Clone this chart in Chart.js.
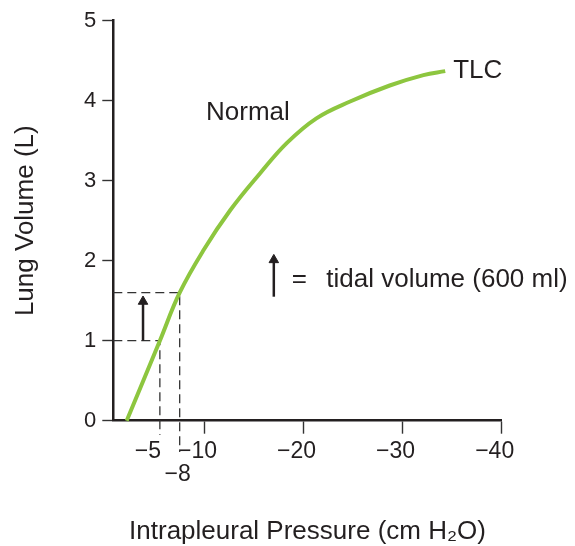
<!DOCTYPE html>
<html><head><meta charset="utf-8">
<script src="https://cdn.jsdelivr.net/npm/chart.js@4/dist/chart.umd.min.js"></script>
<style>html,body{margin:0;padding:0;background:#fff}#wrap{width:575px;height:546px;position:relative}</style>
</head><body><div id="wrap"><canvas id="c"></canvas></div>
<script>
// Pressure-volume curve (Intrapleural pressure in cm H2O, lung volume in L)
const curvePressure = [-2.15, -5.5, -7.5, -9.9, -12.6, -15.6, -18.3, -21.3, -24.7, -28.7, -32.1, -34.3];
const curveVolume   = [0, 1.0, 1.6, 2.13, 2.63, 3.09, 3.47, 3.78, 3.99, 4.19, 4.32, 4.37];

// Tidal breath: start (FRC) and end of inspiration
const startPressure = -5.5, startVolume = 1.0;
const endPressure = -7.5, endVolume = 1.6;
const guideBottomStart = -0.18, guideBottomEnd = -0.39;
const axisPressure = -0.8;

// Tidal-volume arrows
const tidalArrowPressure = -3.8, tidalArrowFrom = 1.0, tidalArrowTo = 1.49;
const keyArrowPressure = -17, keyArrowFrom = 1.55, keyArrowTo = 2.01;

// Axes
const xTicks = [-40, -30, -20, -10, -8, -5];
const xTickLabels = ['−40', '−30', '−20', '−10', ['', '−8'], '−5'];
const yTicks = [0, 1, 2, 3, 4, 5];

const INK = '#231f20';
Chart.defaults.font.family = '"Liberation Sans", Arial, Helvetica, sans-serif';
Chart.defaults.color = INK;

const pts = (xs, ys) => xs.map((x, i) => ({x, y: ys[i]}));

const textPlugin = {
  id: 'annotText',
  afterDatasetsDraw(chart) {
    const {ctx, scales: {x, y}} = chart;
    ctx.save();
    ctx.fillStyle = INK;
    ctx.font = '26px "Liberation Sans", Arial, Helvetica, sans-serif';
    ctx.textBaseline = 'alphabetic';
    ctx.textAlign = 'left';
    const put = (t, px, py) => ctx.fillText(t, x.getPixelForValue(px), y.getPixelForValue(py));
    put('Normal', -10.16, 3.76);
    put('TLC', -35.1, 4.29);
    put('=', -18.8, 1.67);
    put('tidal volume (600 ml)', -22.3, 1.67);
    ctx.restore();
  }
};

const dashStyle = {borderColor: '#333', borderWidth: 1.3, borderDash: [9, 5], pointRadius: 0, tension: 0, clip: false, fill: false};
const arrowStyle = {borderColor: INK, backgroundColor: INK, borderWidth: 2.5, pointStyle: 'triangle', pointRadius: [0, 5.5],
  pointBorderWidth: 1, pointBorderColor: INK, pointBackgroundColor: INK, pointHoverRadius: 0, tension: 0, clip: false, fill: false};

new Chart(document.getElementById('c'), {
  type: 'line',
  data: {
    datasets: [
      {data: pts(curvePressure, curveVolume), borderColor: '#8dc63f', borderWidth: 4, pointRadius: 0,
       tension: 0.4, fill: false, clip: false, borderCapStyle: 'butt'},
      {data: [{x: tidalArrowPressure, y: tidalArrowFrom}, {x: tidalArrowPressure, y: tidalArrowTo}], ...arrowStyle},
      {data: [{x: keyArrowPressure, y: keyArrowFrom}, {x: keyArrowPressure, y: keyArrowTo}], ...arrowStyle},
      {data: [{x: axisPressure, y: startVolume}, {x: startPressure, y: startVolume}, {x: startPressure, y: guideBottomStart}], ...dashStyle},
      {data: [{x: axisPressure, y: endVolume}, {x: endPressure, y: endVolume}, {x: endPressure, y: guideBottomEnd}], ...dashStyle}
    ]
  },
  options: {
    responsive: true,
    maintainAspectRatio: false,
    animation: false,
    events: [],
    layout: {padding: {top: 20.7, right: 73.3, bottom: 0, left: 0}},
    plugins: {legend: {display: false}, tooltip: {enabled: false}},
    scales: {
      x: {
        type: 'linear', reverse: true, min: -40, max: axisPressure,
        afterBuildTicks: s => { s.ticks = xTicks.map(v => ({value: v})); },
        afterFit: s => { s.height = 125.3; },
        ticks: {
          autoSkip: false, maxRotation: 0, minRotation: 0, padding: 6, labelOffset: -7,
          font: {size: 23, lineHeight: 1}, color: INK,
          callback: v => { const i = xTicks.indexOf(v); return i >= 0 ? xTickLabels[i] : ''; }
        },
        grid: {drawOnChartArea: false, drawTicks: true, tickLength: 13, tickWidth: 1.4,
          tickColor: c => (c.tick && (c.tick.value === -5 || c.tick.value === -8)) ? 'rgba(0,0,0,0)' : '#333'},
        border: {display: true, color: INK, width: 2.5},
        title: {display: true, text: 'Intrapleural Pressure (cm H₂O)', color: INK,
          font: {size: 26, lineHeight: 1}, padding: {top: 0, bottom: 1}}
      },
      y: {
        type: 'linear', min: 0, max: 5,
        afterBuildTicks: s => { s.ticks = yTicks.map(v => ({value: v})); },
        afterFit: s => { s.width = 113.3; },
        ticks: {padding: 6, font: {size: 22, lineHeight: 1}, color: INK},
        grid: {drawOnChartArea: false, drawTicks: true, tickLength: 11, tickWidth: 1.4, tickColor: '#333'},
        border: {display: true, color: INK, width: 2.5},
        title: {display: true, text: 'Lung Volume (L)', color: INK,
          font: {size: 26, lineHeight: 1}, padding: {top: 13.3, bottom: 0}}
      }
    }
  },
  plugins: [textPlugin]
});
</script>
</body></html>
